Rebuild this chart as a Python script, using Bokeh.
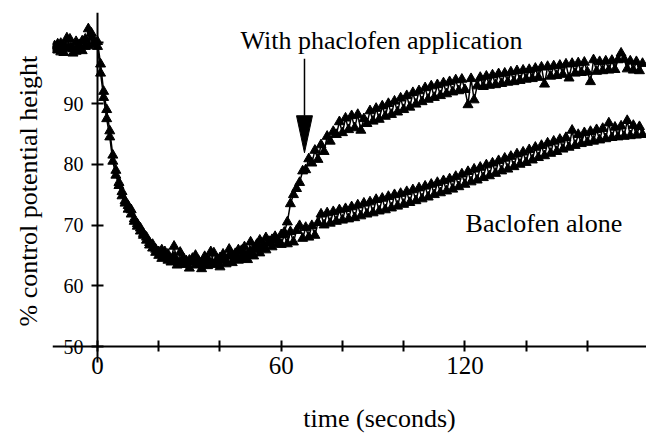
from bokeh.plotting import figure
from bokeh.models import (FixedTicker, Label, LabelSet, Arrow, ColumnDataSource,
                          Title)
from bokeh.embed import file_html
from bokeh.resources import INLINE

# ---- data ----
time_s = list(range(-14, 179))  # sampling grid, 1 s

with_phaclofen = [
    99.5, 98.8, 99.9, 98.4, 99.2, 100.6, 99.0, 98.6, 99.7, 100.3,
    99.4, 102.3, 100.9, 99.8, 100.2, 96.5, 92.0, 89.0, 85.5, 81.5,
    79.0, 77.0, 75.5, 74.0, 73.2, 72.5, 71.0, 70.2, 69.5, 68.6,
    68.0, 67.1, 66.8, 66.0, 65.6, 65.9, 64.8, 65.2, 64.4, 66.5,
    64.0, 63.8, 64.6, 63.5, 64.2, 63.9, 65.0, 64.1, 63.6, 64.8,
    64.3, 63.7, 65.4, 64.0, 64.6, 65.2, 64.1, 66.0, 64.9, 65.3,
    64.2, 65.8, 66.4, 65.1, 67.2, 66.0, 66.8, 67.5, 66.2, 67.9,
    67.0, 67.6, 68.1, 67.4, 68.4, 68.8, 70.5, 73.5, 75.0, 76.0,
    77.0, 78.9, 79.1, 80.9, 80.2, 82.3, 80.8, 83.2, 82.1, 84.6,
    83.8, 85.4, 84.9, 87.0, 85.2, 87.6, 85.7, 88.0, 86.0, 88.2,
    85.6, 87.5, 86.7, 88.8, 87.1, 89.2, 87.4, 89.6, 87.9, 90.0,
    88.2, 90.4, 88.6, 90.9, 89.0, 91.3, 89.4, 91.8, 89.9, 92.1,
    90.3, 92.6, 90.7, 92.9, 91.0, 93.1, 91.3, 93.4, 91.6, 93.6,
    91.9, 93.9, 92.1, 94.0, 92.3, 89.8, 94.1, 90.6, 92.9, 94.3,
    92.8, 94.5, 93.0, 94.7, 93.1, 94.9, 93.3, 95.0, 93.5, 95.2,
    93.6, 95.4, 93.8, 95.5, 94.0, 95.6, 94.1, 95.8, 94.3, 96.0,
    93.2, 96.1, 94.5, 96.2, 94.6, 96.3, 94.8, 96.5, 94.2, 96.6,
    95.0, 96.7, 95.1, 96.8, 95.2, 93.6, 97.2, 95.3, 96.9, 95.4,
    97.0, 95.5, 97.1, 95.6, 97.2, 98.3, 97.3, 95.7, 97.0, 95.5,
    96.9, 95.4, 96.6,
]

baclofen_alone = [
    98.9, 99.8, 98.5, 99.6, 100.8, 99.1, 98.3, 100.2, 99.0, 98.7,
    100.6, 99.5, 101.6, 100.3, 99.4, 95.0, 91.0, 87.5, 84.5, 80.5,
    78.2, 76.5, 74.8, 73.6, 72.6, 71.8, 70.6, 69.8, 69.0, 68.3,
    67.5, 66.7, 66.2, 65.5, 65.0, 64.5, 65.6, 64.2, 63.9, 64.7,
    63.4, 65.5, 63.6, 64.1, 62.9, 64.5, 63.4, 63.8, 62.8, 64.0,
    63.3, 65.6, 63.5, 64.3, 63.1, 64.4, 63.6, 64.9, 63.8, 64.5,
    65.9, 64.4, 65.0, 64.3, 65.6, 64.9, 66.3, 65.4, 66.8, 65.9,
    67.3, 66.4, 67.6, 66.9,
    66.8, 68.4, 66.9, 68.9, 67.2, 69.1, 69.9, 67.8, 69.6, 68.0,
    69.9, 68.3, 70.4, 71.8, 70.0, 72.0, 70.3, 72.2, 70.6, 72.5,
    70.8, 72.7, 71.0, 73.0, 71.2, 73.3, 71.5, 73.6, 71.8, 73.8,
    72.0, 74.2, 72.3, 74.4, 72.5, 74.7, 72.8, 75.0, 73.1, 75.2,
    73.4, 75.5, 73.7, 75.8, 74.0, 76.1, 74.3, 76.4, 74.6, 76.7,
    75.0, 77.0, 75.3, 77.3, 75.6, 77.6, 75.9, 78.0, 76.3, 78.4,
    76.7, 78.8, 77.1, 79.2, 77.4, 79.5, 77.8, 79.9, 78.1, 80.2,
    78.5, 80.6, 78.9, 81.0, 79.2, 81.3, 79.6, 81.7, 80.0, 82.0,
    80.3, 82.4, 80.7, 82.8, 81.1, 83.1, 81.4, 83.5, 81.8, 83.8,
    82.1, 84.1, 82.5, 84.4, 82.8, 85.6, 83.1, 84.9, 83.4, 85.2,
    83.6, 85.4, 83.8, 85.7, 84.0, 85.9, 84.2, 86.8, 84.4, 86.1,
    84.5, 86.3, 84.6, 87.2, 84.7, 86.4, 84.8, 86.2, 84.9,
]

x_ticks = [0, 20, 40, 60, 80, 100, 120, 140, 160]
x_label_values = [0, 60, 120]
x_label_texts = ["0", "60", "120"]
y_ticks = [50, 60, 70, 80, 90, 100]
y_label_values = [50, 60, 70, 80, 90]
y_label_texts = ["50", "60", "70", "80", "90"]

# annotation positions (data units)
ARROW_X = 67.6
ARROW_TOP = 97.4
ARROW_HEAD_BASE = 88.0
ARROW_TIP = 81.9
ARROW_HALF_W = 2.6
Y_AXIS_BOTTOM = 47.37   # the y axis line runs a little below the x axis

SERIF = "Liberation Serif"

p = figure(width=646, height=433, x_range=(-14.7, 179.3), y_range=(35.68, 105),
           output_backend="svg", toolbar_location=None,
           min_border_left=52, min_border_right=0, min_border_top=12,
           min_border_bottom=0)
p.outline_line_color = None
p.grid.visible = False
p.background_fill_color = "white"
p.border_fill_color = "white"

# y axis crossing at x = 0 (ticks only; labels drawn below)
yax = p.yaxis[0]
yax.fixed_location = 0
yax.bounds = (Y_AXIS_BOTTOM, 105)
yax.ticker = FixedTicker(ticks=[], minor_ticks=y_ticks)
yax.minor_tick_in = 6
yax.minor_tick_out = 6
yax.minor_tick_line_width = 2
yax.minor_tick_line_color = "black"
yax.axis_line_width = 2

ylab_src = ColumnDataSource(dict(x=[0] * len(y_label_values), y=y_label_values,
                                 text=y_label_texts))
p.add_layout(LabelSet(x="x", y="y", text="text", source=ylab_src,
                      x_offset=-14, text_align="right", text_baseline="middle",
                      text_font="Liberation Sans", text_font_size="20px",
                      text_color="black"))

# x axis line at y = 50 (ticks only)
xax = p.xaxis[0]
xax.fixed_location = 50
xax.ticker = FixedTicker(ticks=[], minor_ticks=x_ticks)
xax.minor_tick_in = 6
xax.minor_tick_out = 5
xax.minor_tick_line_width = 2
xax.minor_tick_line_color = "black"
xax.axis_line_width = 2

xlab_src = ColumnDataSource(dict(x=x_label_values, y=[50] * len(x_label_values),
                                 text=x_label_texts))
p.add_layout(LabelSet(x="x", y="y", text="text", source=xlab_src,
                      y_offset=-10, text_align="center", text_baseline="top",
                      text_font=SERIF, text_font_size="25px",
                      text_color="black"))

# axis titles
p.add_layout(Label(x=92.1, y=38.1, text="time (seconds)",
                   text_align="center", text_baseline="alphabetic",
                   text_font=SERIF, text_font_size="26px", text_color="black"))
p.add_layout(Title(text="% control potential height", align="left", offset=107,
                   text_font=SERIF, text_font_size="26px",
                   text_font_style="normal", text_color="black",
                   standoff=20), "left")

# series
for ys in (baclofen_alone, with_phaclofen):
    p.line(time_s, ys, line_color="black", line_width=1.5)
    p.scatter(time_s, ys, marker="triangle", size=10, fill_color="black",
              line_color="black")

# annotations
p.add_layout(Label(x=46.7, y=100.4, text="With phaclofen application",
                   text_font=SERIF, text_font_size="26px", text_color="black",
                   text_baseline="alphabetic"))
p.add_layout(Label(x=120.2, y=70.3, text="Baclofen alone",
                   text_font=SERIF, text_font_size="26px", text_color="black",
                   text_baseline="alphabetic"))
p.add_layout(Arrow(end=None, x_start=ARROW_X, y_start=ARROW_TOP,
                   x_end=ARROW_X, y_end=ARROW_HEAD_BASE,
                   line_color="black", line_width=1.5))
p.patch([ARROW_X - ARROW_HALF_W, ARROW_X + ARROW_HALF_W, ARROW_X],
        [ARROW_HEAD_BASE, ARROW_HEAD_BASE, ARROW_TIP],
        fill_color="black", line_color="black")

open("out.html", "w").write(file_html(p, INLINE))
